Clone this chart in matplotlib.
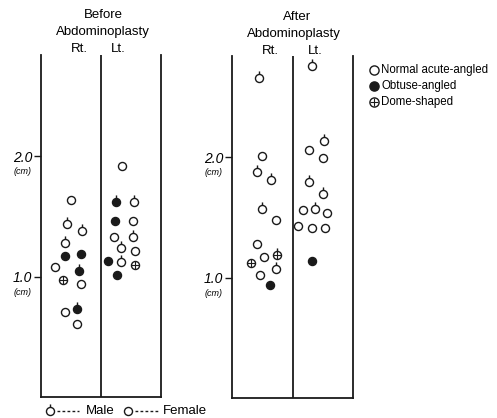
import matplotlib
matplotlib.use("Agg")
import matplotlib.pyplot as plt
from matplotlib.path import Path

plt.rcParams['font.family'] = ['Liberation Sans', 'DejaVu Sans']

# projection (cm) per breast; pos is the horizontal slot inside the panel
# (0-1 = Rt. column, 1-2 = Lt. column)
# shape: 'n' normal acute-angled, 'o' obtuse-angled, 'd' dome-shaped
before_rt_pos = [0.50, 0.43, 0.68, 0.40, 0.40, 0.67, 0.23, 0.63, 0.36, 0.67, 0.40, 0.60, 0.60]
before_rt_cm = [1.64, 1.44, 1.375, 1.28, 1.17, 1.19, 1.08, 1.05, 0.975, 0.94, 0.71, 0.73, 0.61]
before_rt_shape = ['n', 'n', 'n', 'n', 'o', 'o', 'n', 'o', 'd', 'n', 'n', 'o', 'n']
before_rt_male = [0, 1, 1, 1, 0, 0, 0, 1, 0, 0, 0, 1, 0]

before_lt_pos = [1.35, 1.25, 1.55, 1.24, 1.53, 1.21, 1.53, 1.34, 1.57, 1.11, 1.34, 1.57, 1.27]
before_lt_cm = [1.917, 1.62, 1.62, 1.46, 1.46, 1.33, 1.33, 1.24, 1.21, 1.13, 1.125, 1.10, 1.01]
before_lt_shape = ['n', 'o', 'n', 'o', 'n', 'n', 'n', 'n', 'n', 'o', 'n', 'd', 'o']
before_lt_male = [0, 1, 1, 0, 0, 0, 1, 1, 0, 0, 1, 0, 0]

after_rt_pos = [0.45, 0.50, 0.41, 0.64, 0.50, 0.72, 0.42, 0.53, 0.75, 0.32, 0.73, 0.46, 0.62]
after_rt_cm = [2.66, 2.01, 1.88, 1.81, 1.57, 1.48, 1.28, 1.17, 1.19, 1.12, 1.07, 1.02, 0.94]
after_rt_shape = ['n', 'n', 'n', 'n', 'n', 'n', 'n', 'n', 'd', 'd', 'n', 'n', 'o']
after_rt_male = [1, 0, 1, 1, 1, 0, 0, 0, 1, 0, 1, 0, 0]

after_lt_pos = [1.33, 1.52, 1.27, 1.50, 1.27, 1.50, 1.17, 1.38, 1.57, 1.09, 1.33, 1.53, 1.32]
after_lt_cm = [2.76, 2.13, 2.06, 1.99, 1.79, 1.69, 1.56, 1.57, 1.54, 1.43, 1.41, 1.41, 1.14]
after_lt_shape = ['n', 'n', 'n', 'n', 'n', 'n', 'n', 'n', 'n', 'n', 'n', 'n', 'o']
after_lt_male = [1, 1, 0, 0, 1, 1, 0, 1, 0, 0, 0, 0, 0]

y_ticks = [1.0, 2.0]
y_tick_labels = ['1.0', '2.0']

INK = '#1a1a1a'
MS = 5.8
STEM = 1.75
# circle with a short stem on top = male
MALE = Path.make_compound_path(Path.unit_circle(), Path([[0, 1], [0, STEM]]))


def draw_points(ax, pos, cm, shape, male):
    for x, y, s, m in zip(pos, cm, shape, male):
        fc = INK if s == 'o' else 'white'
        if m:
            ax.plot(x, y, marker=MALE, ms=MS * STEM, mfc=fc, mec=INK, mew=1.0,
                    ls='none', zorder=3)
        else:
            ax.plot(x, y, marker='o', ms=MS, mfc=fc, mec=INK, mew=1.0,
                    ls='none', zorder=3)
        if s == 'd':
            ax.plot(x, y, marker='+', ms=MS - 0.6, mec=INK, mew=0.8,
                    ls='none', zorder=4)


def setup_panel(ax):
    ax.set_xlim(0, 2)
    ax.set_ylim(0, 2.84)
    for side in ['left', 'right', 'bottom']:
        ax.spines[side].set_linewidth(1.3)
        ax.spines[side].set_color(INK)
    ax.spines['top'].set_visible(False)
    ax.axvline(1, color=INK, lw=1.3)
    ax.set_xticks([])
    ax.set_yticks(y_ticks)
    ax.set_yticklabels(y_tick_labels, fontstyle='italic', fontsize=10)
    ax.tick_params(axis='y', length=5, width=1, color=INK, pad=1.5)
    for v in y_ticks:
        ax.text(-0.15, v - 0.13, '(cm)', transform=ax.get_yaxis_transform(),
                ha='center', va='center', fontsize=6.5, fontstyle='italic')


W, H = 497, 418
fig = plt.figure(figsize=(W / 100, H / 100), dpi=100)

ax1 = fig.add_axes([41 / W, 1 - 397 / H, 120 / W, 342 / H])
ax2 = fig.add_axes([232 / W, 1 - 398 / H, 121 / W, 342 / H])
setup_panel(ax1)
setup_panel(ax2)

draw_points(ax1, before_rt_pos, before_rt_cm, before_rt_shape, before_rt_male)
draw_points(ax1, before_lt_pos, before_lt_cm, before_lt_shape, before_lt_male)
draw_points(ax2, after_rt_pos, after_rt_cm, after_rt_shape, after_rt_male)
draw_points(ax2, after_lt_pos, after_lt_cm, after_lt_shape, after_lt_male)

# headings
def ftext(x, y, s, **kw):
    fig.text(x / W, 1 - y / H, s, ha='center', va='center', **kw)

ftext(103, 15, 'Before', fontsize=9.5)
ftext(103, 32, 'Abdominoplasty', fontsize=9.5)
ftext(79, 49, 'Rt.', fontsize=9.5)
ftext(118, 49, 'Lt.', fontsize=9.5)
ftext(297, 17, 'After', fontsize=9.5)
ftext(294, 34, 'Abdominoplasty', fontsize=9.5)
ftext(270, 51, 'Rt.', fontsize=9.5)
ftext(315, 51, 'Lt.', fontsize=9.5)

# keys drawn on a pixel-space overlay
ov = fig.add_axes([0, 0, 1, 1])
ov.set_xlim(0, W)
ov.set_ylim(H, 0)
ov.axis('off')

ov.plot(374, 70, marker='o', ms=MS + 0.8, mfc='white', mec=INK, mew=1.0)
ov.plot(374, 86, marker='o', ms=MS + 0.8, mfc=INK, mec=INK, mew=1.0)
ov.plot(374, 102, marker='o', ms=MS + 0.8, mfc='white', mec=INK, mew=1.0)
ov.plot(374, 102, marker='+', ms=MS + 0.2, mec=INK, mew=0.8)
for yy, lab in [(70, 'Normal acute-angled'), (86, 'Obtuse-angled'), (102, 'Dome-shaped')]:
    ov.text(381, yy, lab, fontsize=8.3, va='center', ha='left')

ov.plot(50, 411, marker=MALE, ms=MS * STEM, mfc='white', mec=INK, mew=1.0)
ov.plot([57, 79], [411, 411], color=INK, lw=1.0, ls=(0, (2, 1.6)))
ov.text(86, 411, 'Male', fontsize=9.5, va='center', ha='left')
ov.plot(128, 411, marker='o', ms=MS, mfc='white', mec=INK, mew=1.0)
ov.plot([135, 160], [411, 411], color=INK, lw=1.0, ls=(0, (2, 1.6)))
ov.text(163, 411, 'Female', fontsize=9.5, va='center', ha='left')

fig.savefig('out.png', dpi=100)
